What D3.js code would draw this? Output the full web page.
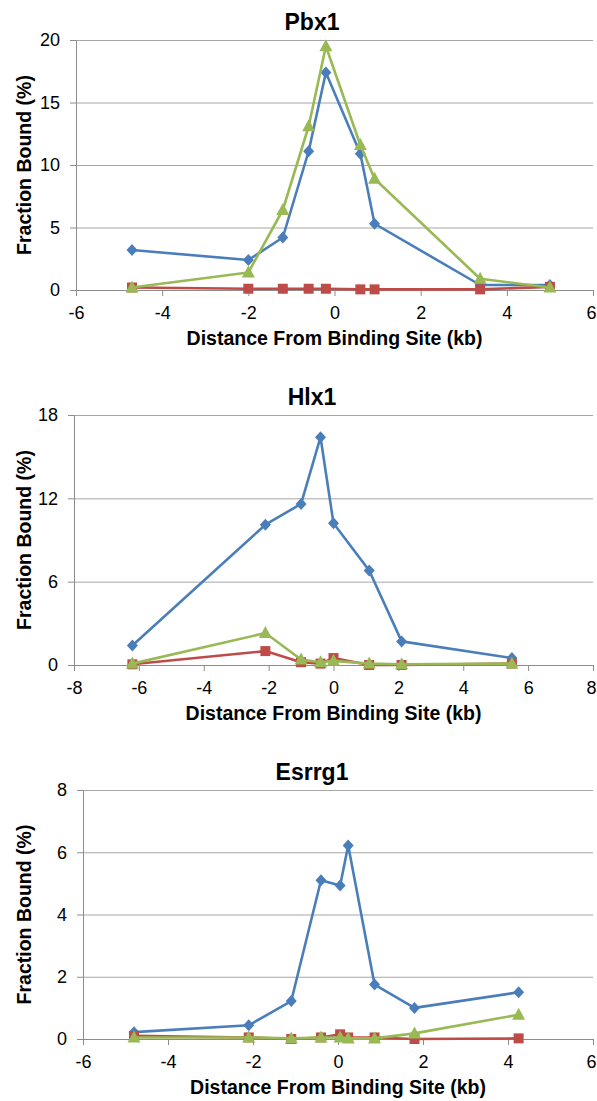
<!DOCTYPE html>
<html>
<head>
<meta charset="utf-8">
<script src="https://cdn.jsdelivr.net/npm/d3@7"></script>
<style>
  body { margin: 0; background: #fff; }
  text { font-family: "Liberation Sans", Arial, sans-serif; fill: #000; }
</style>
</head>
<body>
<div id="chart"></div>
<script>
// Pbx1 panel
const pbxDist  = [-4.7, -2.0, -1.2, -0.6, -0.2, 0.6, 0.93, 3.38, 5.0];
const pbxBlue  = [3.2, 2.4, 4.2, 11.1, 17.4, 10.9, 5.3, 0.4, 0.4];
const pbxRed   = [0.2, 0.1, 0.1, 0.1, 0.1, 0.05, 0.05, 0.05, 0.25];
const pbxGreen = [0.2, 1.4, 6.4, 13.1, 19.5, 11.6, 8.9, 0.9, 0.2];
const pbxXTicks = [-6, -4, -2, 0, 2, 4, 6];
const pbxYTicks = [0, 5, 10, 15, 20];

// Hlx1 panel
const hlxDist  = [-6.2, -2.1, -1.0, -0.4, 0.0, 1.1, 2.1, 5.5];
const hlxBlue  = [1.4, 10.1, 11.6, 16.4, 10.2, 6.8, 1.7, 0.5];
const hlxRed   = [0.05, 1.0, 0.2, 0.1, 0.5, 0.0, 0.0, 0.1];
const hlxGreen = [0.1, 2.3, 0.4, 0.2, 0.3, 0.1, 0.05, 0.1];
const hlxXTicks = [-8, -6, -4, -2, 0, 2, 4, 6, 8];
const hlxYTicks = [0, 6, 12, 18];

// Esrrg1 panel
const esrDist  = [-4.8, -2.1, -1.1, -0.4, 0.05, 0.24, 0.86, 1.8, 4.25];
const esrBlue  = [0.22, 0.44, 1.22, 5.1, 4.93, 6.22, 1.75, 1.0, 1.5];
const esrRed   = [0.1, 0.05, 0.0, 0.05, 0.15, 0.05, 0.05, 0.0, 0.02];
const esrGreen = [0.05, 0.05, 0.02, 0.05, 0.05, 0.02, 0.02, 0.18, 0.78];
const esrXTicks = [-6, -4, -2, 0, 2, 4, 6];
const esrYTicks = [0, 2, 4, 6, 8];

const xLabel = "Distance From Binding Site (kb)";
const yLabel = "Fraction Bound (%)";

const W = 597, H = 1101;

const svg = d3.select("#chart").append("svg")
    .attr("width", W)
    .attr("height", H);

// marker shapes (centred on 0,0)
const markers = {
  diamond: "M0,-6L5.5,0L0,6L-5.5,0Z",
  square: "M-5,-5H5V5H-5Z",
  triangle: "M0,-7L6.5,5H-6.5Z"
};

// plain hyphen for negatives, like the original
const fmt = d => String(d);

function drawPanel(opt) {
  const width = opt.right - opt.left,
        height = opt.bottom - opt.top;

  const x = d3.scaleLinear().domain(d3.extent(opt.xTicks)).range([0, width]);
  const y = d3.scaleLinear().domain(d3.extent(opt.yTicks)).range([height, 0]);

  const g = svg.append("g")
      .attr("transform", "translate(" + opt.left + "," + opt.top + ")");

  // horizontal gridlines
  g.append("g")
      .call(d3.axisLeft(y).tickValues(opt.yTicks).tickSize(-width).tickFormat(""))
      .call(a => a.select(".domain").remove())
      .call(a => a.selectAll("line").attr("stroke", "#a6a6a6").attr("stroke-width", 1));

  // y axis
  g.append("g")
      .call(d3.axisLeft(y).tickValues(opt.yTicks).tickFormat(fmt).tickSize(6).tickSizeOuter(0).tickPadding(10))
      .call(a => a.select(".domain").attr("stroke", "#8c8c8c"))
      .call(a => a.selectAll("line").attr("stroke", "#8c8c8c"))
      .call(a => a.selectAll("text").style("font-size", "18px").attr("fill", "#000"));

  // x axis
  g.append("g")
      .attr("transform", "translate(0," + height + ")")
      .call(d3.axisBottom(x).tickValues(opt.xTicks).tickFormat(fmt).tickSize(6).tickSizeOuter(0).tickPadding(10))
      .call(a => a.select(".domain").attr("stroke", "#8c8c8c"))
      .call(a => a.selectAll("line").attr("stroke", "#8c8c8c"))
      .call(a => a.selectAll("text").style("font-size", "18px").attr("fill", "#000"))
      // keep the last label inside the page edge
      .call(a => a.selectAll(".tick:last-of-type text").attr("text-anchor", "end").attr("x", 3));

  const line = d3.line()
      .x(d => x(d[0]))
      .y(d => y(d[1]));

  opt.series.forEach(s => {
    const pts = opt.dist.map((d, i) => [d, s.values[i]]);
    g.append("path")
        .datum(pts)
        .attr("fill", "none")
        .attr("stroke", s.color)
        .attr("stroke-width", 2.6)
        .attr("stroke-linejoin", "round")
        .attr("d", line);
    g.selectAll(null)
        .data(pts)
        .enter()
        .append("path")
        .attr("d", markers[s.marker])
        .attr("fill", s.color)
        .attr("transform", d => "translate(" + x(d[0]) + "," + y(d[1]) + ")");
  });

  // chart title
  svg.append("text")
      .attr("x", 312)
      .attr("y", opt.top - 10)
      .attr("text-anchor", "middle")
      .style("font-size", "23px")
      .style("font-weight", "bold")
      .text(opt.title);

  // x axis title
  svg.append("text")
      .attr("x", opt.left + width / 2)
      .attr("y", opt.bottom + 55)
      .attr("text-anchor", "middle")
      .style("font-size", "19.5px")
      .style("font-weight", "bold")
      .text(xLabel);

  // y axis title
  svg.append("text")
      .attr("transform", "translate(31," + (opt.top + height / 2) + ") rotate(-90)")
      .attr("text-anchor", "middle")
      .style("font-size", "19.5px")
      .style("font-weight", "bold")
      .text(yLabel);
}

const blue = "#4a7ebb", red = "#be4b48", green = "#98b954";

drawPanel({
  title: "Pbx1", left: 76, right: 593, top: 40, bottom: 290,
  dist: pbxDist, xTicks: pbxXTicks, yTicks: pbxYTicks,
  series: [
    {values: pbxBlue, color: blue, marker: "diamond"},
    {values: pbxRed, color: red, marker: "square"},
    {values: pbxGreen, color: green, marker: "triangle"}
  ]
});

drawPanel({
  title: "Hlx1", left: 74, right: 593, top: 415, bottom: 665,
  dist: hlxDist, xTicks: hlxXTicks, yTicks: hlxYTicks,
  series: [
    {values: hlxBlue, color: blue, marker: "diamond"},
    {values: hlxRed, color: red, marker: "square"},
    {values: hlxGreen, color: green, marker: "triangle"}
  ]
});

drawPanel({
  title: "Esrrg1", left: 83, right: 593, top: 790, bottom: 1039,
  dist: esrDist, xTicks: esrXTicks, yTicks: esrYTicks,
  series: [
    {values: esrBlue, color: blue, marker: "diamond"},
    {values: esrRed, color: red, marker: "square"},
    {values: esrGreen, color: green, marker: "triangle"}
  ]
});
</script>
</body>
</html>
